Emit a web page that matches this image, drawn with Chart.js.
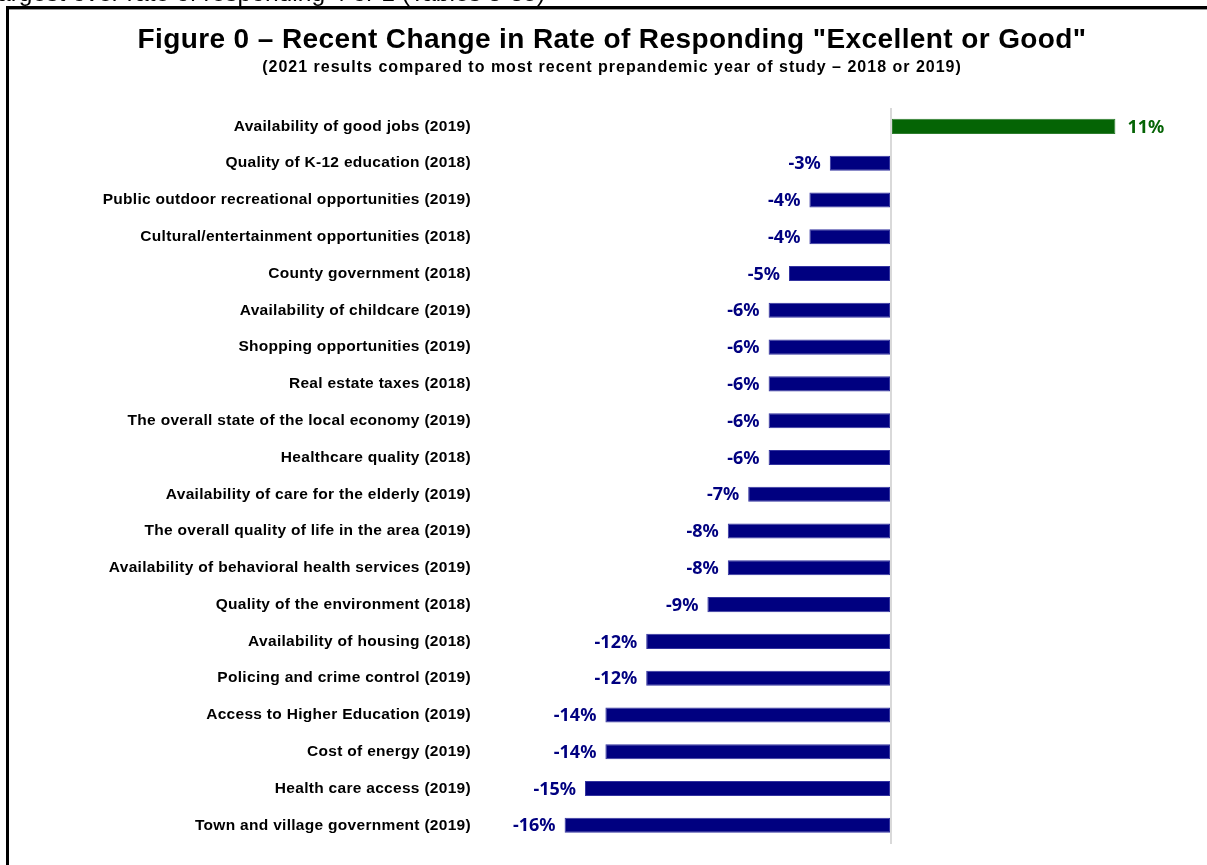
<!DOCTYPE html>
<html>
<head>
<meta charset="utf-8">
<script src="https://cdn.jsdelivr.net/npm/chart.js@4/dist/chart.umd.min.js"></script>
<style>
  html, body { margin: 0; padding: 0; background: #fff; }
  #page { position: relative; width: 1207px; height: 865px; overflow: hidden; background: #fff; }
  #chart { position: absolute; left: 0; top: 0; }
  #caption { position: absolute; left: -3px; top: -19px; font: 24.6px "Liberation Sans", Arial, sans-serif; color: #000; white-space: nowrap; line-height: 24px; }
  #frame { position: absolute; left: 6px; top: 6px; right: -10px; bottom: -10px; border-left: 3px solid #000; border-top: 3px solid #000; }
  #frameInner { position: absolute; left: 9px; top: 9px; right: 0; height: 1px; background: #9a9a9a; }
</style>
</head>
<body>
<div id="page">
  <canvas id="chart" width="1207" height="865"></canvas>
  <div id="caption">argest over rate of responding 4 or 1 (Tables 3-35)</div>
  <div id="frame"></div>
  <div id="frameInner"></div>
</div>
<script>
// Items rated, with the year of the comparison baseline
const categories = [
  "Availability of good jobs (2019)",
  "Quality of K-12 education (2018)",
  "Public outdoor recreational opportunities (2019)",
  "Cultural/entertainment opportunities (2018)",
  "County government (2018)",
  "Availability of childcare (2019)",
  "Shopping opportunities (2019)",
  "Real estate taxes (2018)",
  "The overall state of the local economy (2019)",
  "Healthcare quality (2018)",
  "Availability of care for the elderly (2019)",
  "The overall quality of life in the area (2019)",
  "Availability of behavioral health services (2019)",
  "Quality of the environment (2018)",
  "Availability of housing (2018)",
  "Policing and crime control (2019)",
  "Access to Higher Education (2019)",
  "Cost of energy (2019)",
  "Health care access (2019)",
  "Town and village government (2019)"
];

// Change in percentage points responding "Excellent or Good"
const changeValues = [11, -3, -4, -4, -5, -6, -6, -6, -6, -6, -7, -8, -8, -9, -12, -12, -14, -14, -15, -16];

const titleText = 'Figure 0 \u2013 Recent Change in Rate of Responding "Excellent or Good"';
const subtitleText = '(2021 results compared to most recent prepandemic year of study \u2013 2018 or 2019)';

const positiveColor = '#056405';
const negativeColor = '#000080';
const sansFamily = '"Liberation Sans", Arial, sans-serif';

// Slightly widened lettering for the category labels
const labelSpacing = {
  id: 'labelSpacing',
  beforeLayout(chart) { chart.ctx.letterSpacing = '0.3px'; },
  beforeDraw(chart) { chart.ctx.letterSpacing = '0.3px'; }
};

// Heading and sub-heading above the plot
const headings = {
  id: 'headings',
  afterDraw(chart) {
    const ctx = chart.ctx;
    const cx = 612;
    ctx.save();
    ctx.fillStyle = '#000';
    ctx.textAlign = 'center';
    ctx.textBaseline = 'alphabetic';
    ctx.letterSpacing = '0.4px';
    ctx.font = 'bold 28px ' + sansFamily;
    ctx.fillText(titleText, cx, 48);
    ctx.letterSpacing = '1px';
    ctx.font = 'bold 16px ' + sansFamily;
    ctx.fillText(subtitleText, cx, 72);
    ctx.restore();
  }
};

// Draws the "n%" label beside the end of each bar
const valueLabels = {
  id: 'valueLabels',
  afterDatasetsDraw(chart) {
    const ctx = chart.ctx;
    const meta = chart.getDatasetMeta(0);
    ctx.save();
    ctx.letterSpacing = '0px';
    ctx.font = 'bold 18px "Noto Sans", "Open Sans", sans-serif';
    ctx.textBaseline = 'middle';
    meta.data.forEach((bar, i) => {
      const v = changeValues[i];
      const text = v + '%';
      if (v >= 0) {
        ctx.fillStyle = positiveColor;
        ctx.textAlign = 'left';
        ctx.fillText(text, bar.x + 12, bar.y + 1);
      } else {
        ctx.fillStyle = negativeColor;
        ctx.textAlign = 'right';
        ctx.fillText(text, bar.x - 9, bar.y + 1);
      }
    });
    ctx.restore();
  }
};

new Chart(document.getElementById('chart'), {
  type: 'bar',
  data: {
    labels: categories,
    datasets: [{
      data: changeValues,
      backgroundColor: changeValues.map(v => v >= 0 ? positiveColor : negativeColor),
      borderColor: changeValues.map(v => v >= 0 ? '#2e7d2e' : '#3434a0'),
      borderWidth: 1,
      borderSkipped: false,
      categoryPercentage: 1,
      barPercentage: 0.41
    }]
  },
  options: {
    indexAxis: 'y',
    responsive: false,
    animation: false,
    layout: { padding: { top: 108, right: 10, bottom: 20, left: 10 } },
    plugins: {
      legend: { display: false },
      tooltip: { enabled: false },
      title: { display: false }
    },
    scales: {
      x: {
        min: -20,
        max: 15,
        ticks: { display: false },
        border: { display: false },
        grid: {
          drawTicks: false,
          lineWidth: 2,
          color: c => c.tick && c.tick.value === 0 ? '#d9d9d9' : 'rgba(0,0,0,0)'
        }
      },
      y: {
        afterFit: s => { s.width = 473; },
        border: { display: false },
        grid: { display: false, drawTicks: false },
        ticks: {
          color: '#000',
          padding: 12,
          font: { family: sansFamily, size: 15.5, weight: 'bold' }
        }
      }
    }
  },
  plugins: [labelSpacing, headings, valueLabels]
});
</script>
</body>
</html>
